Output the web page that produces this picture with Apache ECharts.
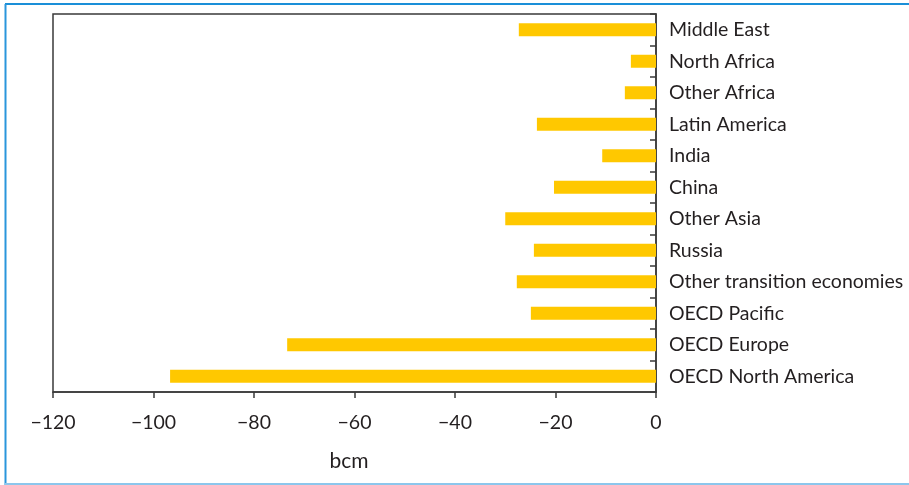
<!DOCTYPE html>
<html>
<head>
<meta charset="utf-8">
<script src="https://cdn.jsdelivr.net/npm/echarts@6/dist/echarts.min.js"></script>
<style>
  html, body { margin: 0; padding: 0; background: #ffffff; }
  #chart { width: 909px; height: 485px; }
</style>
</head>
<body>
<div id="chart"></div>
<script>
// Change in natural gas production by region (bcm)
const regions = [
  'Middle East', 'North Africa', 'Other Africa', 'Latin America', 'India', 'China',
  'Other Asia', 'Russia', 'Other transition economies', 'OECD Pacific',
  'OECD Europe', 'OECD North America'
];
const changeBcm = [-27.3, -5, -6.2, -23.7, -10.7, -20.3, -30, -24.3, -27.7, -24.9, -73.4, -96.7];
const xTicks = [-120, -100, -80, -60, -40, -20, 0];
const unitLabel = 'bcm';

const fontFamily = 'Lato, "DejaVu Sans", sans-serif';
const textColor = '#231f20';
const axisColor = '#3a3a3a';

const chart = echarts.init(document.getElementById('chart'), null, { renderer: 'canvas' });

chart.setOption({
  animation: false,
  backgroundColor: '#ffffff',
  grid: {
    left: 53, right: 253, top: 14, bottom: 93,
    outerBoundsMode: 'none',
    containLabel: false,
    show: true, borderColor: axisColor, borderWidth: 1.5, backgroundColor: 'transparent'
  },
  xAxis: {
    type: 'value',
    min: xTicks[0],
    max: xTicks[xTicks.length - 1],
    interval: xTicks[1] - xTicks[0],
    name: unitLabel,
    nameLocation: 'middle',
    nameGap: 59,
    nameTextStyle: { fontFamily, fontSize: 21, color: textColor, padding: [0, 11, 0, 0] },
    axisLine: { show: true, lineStyle: { color: axisColor, width: 1.5 } },
    axisTick: { show: true, inside: false, length: 6, lineStyle: { color: axisColor, width: 1.5 } },
    axisLabel: {
      fontFamily, fontSize: 19.5, color: textColor, margin: 21,
      formatter: v => (v < 0 ? '\u2212' + Math.abs(v) : String(v))
    },
    splitLine: { show: false }
  },
  yAxis: {
    type: 'category',
    data: regions,
    inverse: true,
    position: 'right',
    axisLine: { show: true, onZero: false, lineStyle: { color: axisColor, width: 1.5 } },
    axisTick: { show: true, inside: true, length: 6, lineStyle: { color: axisColor, width: 1.5 } },
    axisLabel: { fontFamily, fontSize: 19.5, color: textColor, margin: 13 },
    splitLine: { show: false }
  },
  series: [{
    type: 'bar',
    data: changeBcm,
    barWidth: 13,
    itemStyle: { color: '#ffc800' }
  }],
  graphic: [
    { type: 'line', shape: { x1: 5, y1: 4, x2: 909, y2: 4 }, style: { stroke: '#1a8fd8', lineWidth: 2 } },
    { type: 'line', shape: { x1: 5.5, y1: 4, x2: 5.5, y2: 485 }, style: { stroke: '#2a96dc', lineWidth: 2 } },
    { type: 'line', shape: { x1: 5, y1: 484, x2: 909, y2: 484 }, style: { stroke: '#8cc6ec', lineWidth: 2 } }
  ]
});
</script>
</body>
</html>
